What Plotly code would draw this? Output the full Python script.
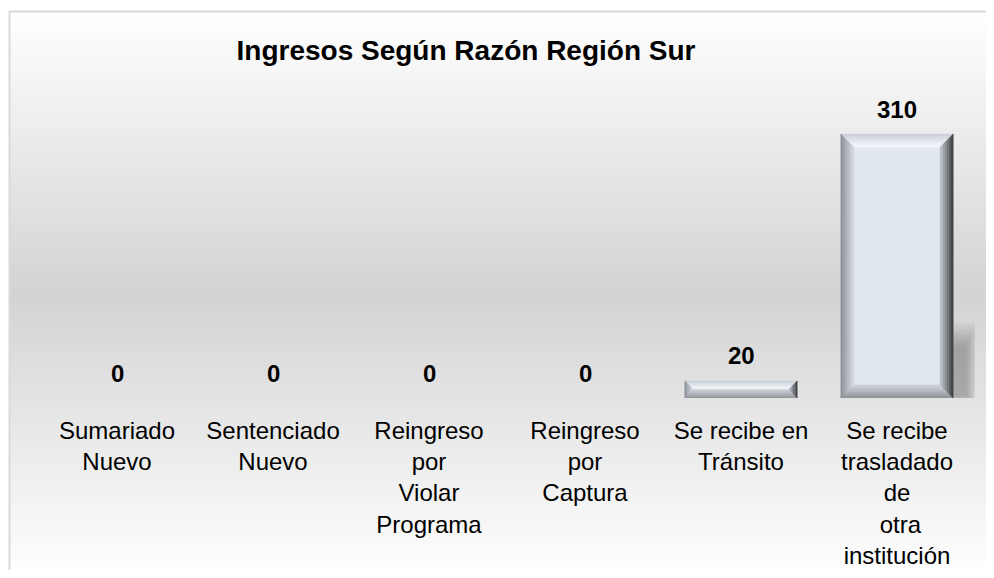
import base64
import plotly.graph_objects as go

# ---------------- data ----------------
categories = [
    "Sumariado<br>Nuevo",
    "Sentenciado<br>Nuevo",
    "Reingreso<br>por<br>Violar<br>Programa",
    "Reingreso<br>por<br>Captura",
    "Se recibe en<br>Tránsito",
    "Se recibe<br>trasladado<br>de<br> otra<br>institución",
]
values = [0, 0, 0, 0, 20, 310]
title_text = "Ingresos Según Razón Región Sur"

# ---------------- layout constants ----------------
# the page body keeps its default 8px margin on every side,
# so the figure is sized to fit the 994x578 window exactly
OFF = 8
W, H = 994 - 2 * OFF, 578 - 2 * OFF
ML, MT = 39 - OFF, 100 - OFF
MR = W - (975 - OFF)
MB = H - (398 - OFF)
PW, PH = W - ML - MR, H - MT - MB
YMAX = 350
BAR_W = 0.72
FONT = "Liberation Sans, Arial, sans-serif"

xs = list(range(len(categories)))
n = len(categories)
XPX = PW / n  # pixels per category


def x_px(u):
    return ML + (u + 0.5) * XPX


def px_x(p):
    return (p - ML) / XPX - 0.5


def y_px(v):
    return MT + PH - v * PH / YMAX


def px_y(p):
    return (MT + PH - p) * YMAX / PH


def hex2rgb(h):
    h = h.lstrip("#")
    return [int(h[i:i + 2], 16) for i in (0, 2, 4)]


def mix(c1, c2, t):
    a, b = hex2rgb(c1), hex2rgb(c2)
    return "rgb(%d,%d,%d)" % tuple(round(a[i] + (b[i] - a[i]) * t) for i in range(3))


def poly(pts, color):
    d = "M " + " L ".join("%.5f,%.5f" % (px_x(px), px_y(py)) for px, py in pts) + " Z"
    return dict(type="path", path=d, xref="x", yref="y", fillcolor=color,
                line=dict(color=color, width=0.6), layer="above")


FACE = "#e2e8f0"
BEVEL = {
    "top": ("#c9ced6", "#f6f9fc"),
    "bottom": ("#8c8f95", "#cfd4da"),
    "left": ("#8a8e94", "#d6dbe2"),
    "right": ("#35373b", "#c4c9d0"),
}

shapes = []
for i, v in zip(xs, values):
    L, R = x_px(i - BAR_W / 2), x_px(i + BAR_W / 2)
    T, B = y_px(v), y_px(0)
    h = B - T
    if h < 1:
        continue
    # soft shadow at the lower right of tall bars
    if h > 70:
        for k in range(10):
            g = k * 1.3
            shapes.append(dict(type="rect", xref="x", yref="y",
                               x0=px_x(R - 2), x1=px_x(R + 25 - g),
                               y0=px_y(B + 4 - g * 0.5), y1=px_y(B - 76 + g * 2.0),
                               fillcolor="rgba(0,0,0,0.026)", line=dict(width=0),
                               layer="below"))
    b = min(13.0, h / 2, (R - L) / 2)
    ns = 6
    for k in range(ns):
        d0, d1 = b * k / ns, b * (k + 1) / ns
        t = (k + 0.5) / ns
        shapes.append(poly([(L + d0, T + d0), (R - d0, T + d0), (R - d1, T + d1), (L + d1, T + d1)],
                           mix(*BEVEL["top"], t)))
        shapes.append(poly([(L + d0, B - d0), (R - d0, B - d0), (R - d1, B - d1), (L + d1, B - d1)],
                           mix(*BEVEL["bottom"], t)))
        shapes.append(poly([(L + d0, T + d0), (L + d0, B - d0), (L + d1, B - d1), (L + d1, T + d1)],
                           mix(*BEVEL["left"], t)))
        shapes.append(poly([(R - d0, T + d0), (R - d0, B - d0), (R - d1, B - d1), (R - d1, T + d1)],
                           mix(*BEVEL["right"], t)))

# background gradient + border (chart area style), in figure pixels
bx, by = 9 - OFF, 11 - OFF
gy1 = 578 - OFF  # gradient ends at the window bottom
svg = (
    "<svg xmlns='http://www.w3.org/2000/svg' width='{W}' height='{H}' viewBox='0 0 {W} {H}' "
    "preserveAspectRatio='none'>"
    "<defs><linearGradient id='g' gradientUnits='userSpaceOnUse' x1='0' y1='{gy0}' x2='0' y2='{gy1}'>"
    "<stop offset='0' stop-color='#ffffff'/>"
    "<stop offset='0.5' stop-color='#d3d3d3'/>"
    "<stop offset='1' stop-color='#ffffff'/>"
    "</linearGradient></defs>"
    "<rect x='0' y='0' width='{W}' height='{H}' fill='#ffffff'/>"
    "<rect x='{rx}' y='{gy0}' width='{W}' height='{H}' fill='url(#g)'/>"
    "<line x1='{bx}' y1='{ly}' x2='{W}' y2='{ly}' stroke='#d9d9d9' stroke-width='2'/>"
    "<line x1='{lx}' y1='{by}' x2='{lx}' y2='{H}' stroke='#d9d9d9' stroke-width='2'/>"
    "</svg>"
).format(W=W, H=H, gy0=by + 1, gy1=gy1, rx=bx + 1, bx=bx, by=by, ly=by + 0.5, lx=bx + 0.5)
src = "data:image/svg+xml;base64," + base64.b64encode(svg.encode()).decode()

fig = go.Figure()
fig.add_trace(go.Bar(
    x=xs, y=values, width=BAR_W,
    marker=dict(color=FACE, line=dict(width=0)),
    hoverinfo="x+y",
))

annotations = []
for i, v in zip(xs, values):
    annotations.append(dict(
        x=i, y=v, xref="x", yref="y", text="<b>%d</b>" % v, showarrow=False,
        yanchor="middle", yshift=25,
        font=dict(family=FONT, size=24, color="#000000"),
    ))

fig.update_layout(
    width=W, height=H,
    autosize=False,
    margin=dict(l=ML, r=MR, t=MT, b=MB, pad=0, autoexpand=False),
    paper_bgcolor="#ffffff",
    plot_bgcolor="rgba(0,0,0,0)",
    showlegend=False,
    title=dict(text="<b>%s</b>" % title_text, x=(466 - OFF) / W, xanchor="center",
               y=1 - (50 - OFF) / H, yanchor="middle", xref="container", yref="container",
               automargin=False,
               font=dict(family=FONT, size=28, color="#000000")),
    xaxis=dict(range=[-0.5, n - 0.5], tickvals=xs, ticktext=categories,
               tickfont=dict(family=FONT, size=24, color="#000000"),
               showgrid=False, zeroline=False, showline=False, ticks="",
               ticklabelstandoff=16, automargin=False, fixedrange=True),
    yaxis=dict(range=[0, YMAX], visible=False, showgrid=False, zeroline=False,
               automargin=False, fixedrange=True),
    shapes=shapes,
    annotations=annotations,
    images=[dict(source=src, xref="paper", yref="paper",
                 x=-ML / PW, y=1 + MT / PH, sizex=W / PW, sizey=H / PH,
                 xanchor="left", yanchor="top", sizing="stretch", layer="below")],
)

fig.write_html("out.html", config={"displayModeBar": False, "responsive": False})
